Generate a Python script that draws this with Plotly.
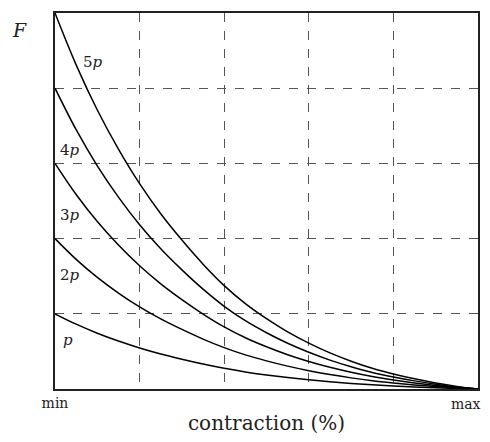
import plotly.graph_objects as go

# contraction (fraction of range, min -> max)
contraction = [0.0, 0.05, 0.1, 0.15, 0.2, 0.25, 0.3, 0.35, 0.4, 0.45, 0.5,
               0.55, 0.6, 0.65, 0.7, 0.75, 0.8, 0.85, 0.9, 0.95, 1.0]

# force curves
F_p  = [1.0, 0.862, 0.742, 0.638, 0.546, 0.466, 0.396, 0.332, 0.275, 0.227, 0.187,
        0.152, 0.122, 0.096, 0.074, 0.055, 0.040, 0.027, 0.016, 0.007, 0.0]
F_2p = [2.0, 1.724, 1.484, 1.276, 1.092, 0.932, 0.792, 0.664, 0.550, 0.454, 0.374,
        0.304, 0.244, 0.192, 0.148, 0.110, 0.080, 0.054, 0.032, 0.014, 0.0]
F_3p = [3.0, 2.586, 2.226, 1.914, 1.638, 1.398, 1.188, 0.996, 0.825, 0.681, 0.561,
        0.456, 0.366, 0.288, 0.222, 0.165, 0.120, 0.081, 0.048, 0.021, 0.0]
F_4p = [4.0, 3.448, 2.968, 2.552, 2.184, 1.864, 1.584, 1.328, 1.100, 0.908, 0.748,
        0.608, 0.488, 0.384, 0.296, 0.220, 0.160, 0.108, 0.064, 0.028, 0.0]
F_5p = [5.0, 4.310, 3.710, 3.190, 2.730, 2.330, 1.980, 1.660, 1.375, 1.135, 0.935,
        0.760, 0.610, 0.480, 0.370, 0.275, 0.200, 0.135, 0.080, 0.035, 0.0]

series = [("p", F_p), ("2p", F_2p), ("3p", F_3p), ("4p", F_4p), ("5p", F_5p)]

x_ticks = [0, 0.2, 0.4, 0.6, 0.8, 1]
x_ticktext = ["min", "", "", "", "", ""]
y_ticks = [0, 1, 2, 3, 4, 5]

# label positions (data coords)
labels = [
    ("<i>p</i>", 0.03, 0.65),
    ("2<i>p</i>", 0.036, 1.52),
    ("3<i>p</i>", 0.036, 2.32),
    ("4<i>p</i>", 0.036, 3.18),
    ("5<i>p</i>", 0.09, 4.35),
]

SERIF = "DejaVu Serif"

fig = go.Figure()
for name, ys in series:
    fig.add_trace(go.Scatter(
        x=contraction, y=ys, mode="lines", name=name,
        line=dict(color="black", width=1.5, shape="spline", smoothing=1.0),
        showlegend=False, hoverinfo="skip",
    ))

for txt, lx, ly in labels:
    fig.add_annotation(x=lx, y=ly, text=txt, showarrow=False, xanchor="center",
                       yanchor="middle",
                       font=dict(family=SERIF, size=15, color="#222"))

fig.add_annotation(xref="paper", yref="paper", x=-0.083, y=0.955, text="<i>F</i>",
                   xanchor="center", yanchor="middle",
                   showarrow=False, font=dict(family=SERIF, size=19, color="#222"))

# "max" end label, kept inside the page
fig.add_annotation(xref="x", yref="paper", x=1, y=0, text="max",
                   xanchor="right", yanchor="top", xshift=5, yshift=-5,
                   showarrow=False, font=dict(family=SERIF, size=14, color="#222"))

fig.update_layout(
    width=490, height=442,
    margin=dict(l=47, r=20, t=3, b=61),
    paper_bgcolor="white", plot_bgcolor="white",
    xaxis=dict(
        range=[0, 1], tickmode="array", tickvals=x_ticks, ticktext=x_ticktext, ticks="",
        showgrid=True, gridcolor="#555", griddash="dash", gridwidth=1,
        zeroline=False, ticklabeloverflow="allow",
        showline=True, linecolor="#222", linewidth=2, mirror=True,
        tickfont=dict(family=SERIF, size=14, color="#222"),
        title=dict(text="contraction (%)", font=dict(family=SERIF, size=20, color="#222"),
                   standoff=6),
    ),
    yaxis=dict(
        range=[0, 5], tickmode="array", tickvals=y_ticks, showticklabels=False, ticks="",
        showgrid=True, gridcolor="#555", griddash="dash", gridwidth=1,
        zeroline=False,
        showline=True, linecolor="#222", linewidth=2, mirror=True,
    ),
)

fig.write_html("out.html")
